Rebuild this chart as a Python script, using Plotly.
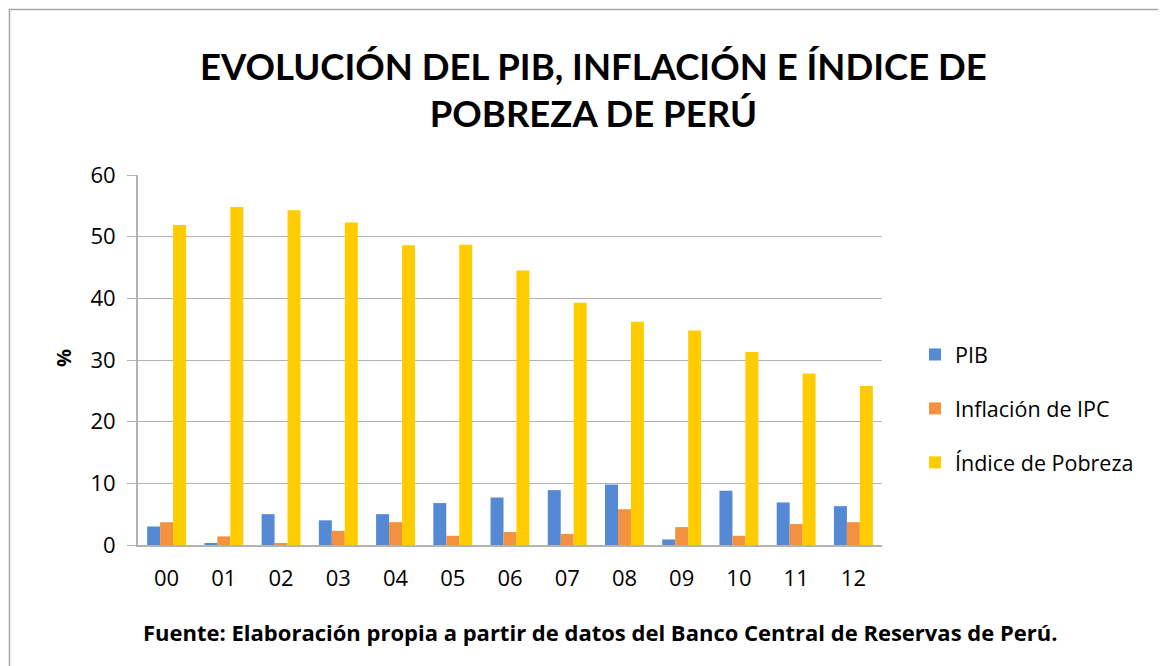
import plotly.graph_objects as go

years = ["00", "01", "02", "03", "04", "05", "06", "07", "08", "09", "10", "11", "12"]
pib = [3.0, 0.2, 5.0, 4.0, 5.0, 6.8, 7.7, 8.9, 9.8, 0.9, 8.8, 6.9, 6.3]
inflacion = [3.7, 1.4, 0.2, 2.3, 3.7, 1.5, 2.1, 1.8, 5.8, 2.9, 1.5, 3.4, 3.7]
pobreza = [51.9, 54.8, 54.3, 52.3, 48.6, 48.7, 44.5, 39.3, 36.2, 34.8, 31.3, 27.8, 25.8]
y_ticks = [0, 10, 20, 30, 40, 50, 60]

TFONT = "Lato"
FONT = "Open Sans"
W, H = 1166, 666
OFF = 8  # page body margin
L, R, T, B = 138, 882, 175, 545  # target screen positions of plot area

def px_x(p):
    return (p - L) / (R - L)

def px_y(p):
    return (B - p) / (B - T)

fig = go.Figure()
series = [("PIB", pib, "#5589D3"), ("Inflación de IPC", inflacion, "#F2913F"), ("Índice de Pobreza", pobreza, "#FFCC00")]
for name, vals, col in series:
    fig.add_trace(go.Bar(x=years, y=vals, name=name, marker=dict(color=col, line=dict(width=0)),
                         legendgroup=name))

fig.update_layout(
    width=W, height=H,
    margin=dict(l=L - OFF, r=W - (R - OFF), t=T - OFF, b=H - (B - OFF), pad=0),
    paper_bgcolor="white", plot_bgcolor="white",
    barmode="group", bargap=0.32, bargroupgap=0,
    font=dict(family=FONT, color="#000000"),
    showlegend=True,
    legend=dict(x=px_x(915), y=px_y(334), xanchor="left", yanchor="top",
                font=dict(family=FONT, size=21.5, color="#000"),
                traceorder="grouped", tracegroupgap=23, itemwidth=30,
                bgcolor="rgba(0,0,0,0)"),
    xaxis=dict(type="category", showgrid=False, showline=True, linecolor="#b3b3b3", linewidth=2,
               ticks="", tickfont=dict(family=FONT, size=22, color="#000"), ticklabelstandoff=13),
    yaxis=dict(range=[0, 60], tickvals=y_ticks, showgrid=True, gridcolor="#b3b3b3", gridwidth=1.3,
               showline=True, linecolor="#b3b3b3", linewidth=2, ticks="outside", ticklen=9,
               tickcolor="#b3b3b3", tickwidth=1.3, zeroline=False,
               tickfont=dict(family=FONT, size=22, color="#000"), ticklabelstandoff=7),
    shapes=[dict(type="rect", xref="paper", yref="paper",
                 x0=px_x(9.5), x1=px_x(1190), y0=px_y(700), y1=px_y(9.5),
                 line=dict(color="#a6a6a6", width=1.5), fillcolor="rgba(0,0,0,0)", layer="below")],
    annotations=[
        dict(text="<b>EVOLUCIÓN DEL PIB, INFLACIÓN E ÍNDICE DE<br>POBREZA DE PERÚ</b>",
             xref="paper", yref="paper", x=px_x(593), y=px_y(90), xanchor="center", yanchor="middle",
             showarrow=False, font=dict(family=TFONT, size=36.5, color="#000")),
        dict(text="<b>Fuente: Elaboración propia a partir de datos del Banco Central de Reservas de Perú.</b>",
             xref="paper", yref="paper", x=px_x(600), y=px_y(632), xanchor="center", yanchor="middle",
             showarrow=False, font=dict(family=FONT, size=22, color="#000")),
        dict(text="<b>%</b>", xref="paper", yref="paper", x=px_x(63), y=px_y(358), textangle=-90,
             xanchor="center", yanchor="middle", showarrow=False,
             font=dict(family=FONT, size=20, color="#000")),
    ],
)

fig.write_html("out.html")
